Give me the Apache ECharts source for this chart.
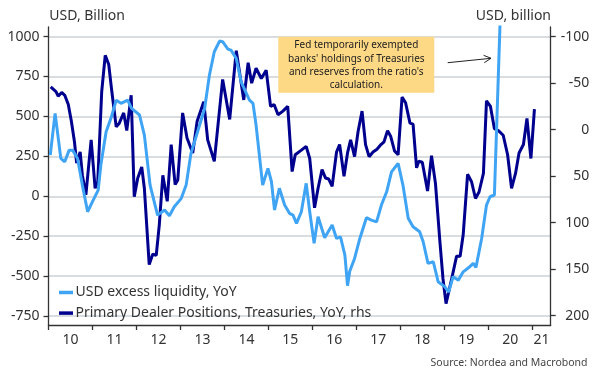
<!DOCTYPE html>
<html><head><meta charset="utf-8">
<script src="https://cdn.jsdelivr.net/npm/echarts@6/dist/echarts.min.js"></script>
<style>html,body{margin:0;padding:0;background:#fff}#c{width:599px;height:380px}</style>
</head><body><div id="c"></div>
<script>
// USD excess liquidity, YoY (USD bn, left axis) — decimal year / value
const lbYears = [2010.04,2010.15,2010.28,2010.37,2010.47,2010.55,2010.66,2010.77,2010.89,2011.00,2011.13,2011.19,2011.31,2011.42,2011.54,2011.65,2011.80,2011.89,2012.07,2012.18,2012.31,2012.48,2012.64,2012.75,2012.86,2013.02,2013.13,2013.24,2013.39,2013.55,2013.66,2013.77,2013.89,2013.96,2014.08,2014.15,2014.27,2014.38,2014.57,2014.65,2014.72,2014.87,2014.99,2015.07,2015.14,2015.25,2015.37,2015.48,2015.56,2015.64,2015.75,2015.86,2015.94,2016.04,2016.13,2016.28,2016.45,2016.55,2016.64,2016.74,2016.80,2016.85,2016.96,2017.08,2017.23,2017.34,2017.46,2017.57,2017.69,2017.80,2017.95,2018.06,2018.18,2018.29,2018.44,2018.52,2018.63,2018.75,2018.86,2019.01,2019.10,2019.20,2019.32,2019.43,2019.58,2019.66,2019.72,2019.85,2019.96,2020.04,2020.14,2020.30];
const lbValues = [258,519,237,216,289,289,237,70,-97,-34,39,195,404,488,602,582,602,550,509,383,70,-118,-86,-122,-66,-13,70,269,404,550,759,905,972,968,922,915,863,717,602,582,446,70,175,91,-86,50,-55,-107,-118,-170,-97,81,-97,-295,-128,-260,-180,-264,-254,-368,-560,-470,-389,-264,-134,-149,-160,-55,28,153,206,70,-138,-191,-222,-285,-420,-410,-535,-566,-600,-504,-525,-473,-441,-420,-445,-264,-55,-3,8,1350];

// Primary Dealer Positions, Treasuries, YoY (USD bn, right axis, inverted)
const pdYears = [2010.05,2010.17,2010.22,2010.30,2010.37,2010.45,2010.52,2010.59,2010.64,2010.72,2010.77,2010.85,2010.89,2010.97,2011.06,2011.12,2011.21,2011.29,2011.37,2011.44,2011.54,2011.61,2011.71,2011.78,2011.88,2011.95,2012.03,2012.12,2012.18,2012.29,2012.37,2012.45,2012.52,2012.60,2012.70,2012.79,2012.88,2012.94,2013.05,2013.15,2013.28,2013.38,2013.53,2013.62,2013.77,2013.96,2014.12,2014.27,2014.44,2014.54,2014.62,2014.72,2014.84,2014.95,2015.05,2015.13,2015.22,2015.33,2015.44,2015.54,2015.61,2015.75,2015.86,2015.94,2016.05,2016.13,2016.22,2016.30,2016.37,2016.45,2016.55,2016.62,2016.72,2016.80,2016.87,2016.96,2017.04,2017.13,2017.21,2017.29,2017.38,2017.47,2017.56,2017.63,2017.71,2017.78,2017.87,2017.95,2018.04,2018.12,2018.22,2018.29,2018.37,2018.42,2018.50,2018.62,2018.71,2018.80,2018.90,2018.97,2019.04,2019.17,2019.28,2019.36,2019.43,2019.53,2019.62,2019.71,2019.79,2019.89,2019.96,2020.05,2020.14,2020.23,2020.34,2020.44,2020.53,2020.62,2020.70,2020.80,2020.88,2020.97,2021.05];
const pdValues = [-46,-41,-36,-40,-37,-27,-9,13,36,24,49,70,68,11,63,56,-41,-80,-70,-41,-3,-7,-18,1,-37,72,52,40,63,145,134,135,102,49,77,16,59,54,-18,9,25,-9,-30,11,34,-54,-11,-85,-32,-72,-50,-66,-55,-64,-25,-27,-16,-20,-25,45,27,22,18,31,84,63,43,52,53,61,24,16,50,25,11,29,2,-20,16,29,24,21,16,13,1,7,23,27,-35,-29,-7,-6,41,34,35,66,28,58,120,160,187,160,136,136,113,48,56,74,67,47,-31,-25,-1,1,6,27,63,47,25,16,-12,31,-22];

const leftTicks = [-750,-500,-250,0,250,500,750,1000];
const rightTicks = [-100,-50,0,50,100,150,200];
const yearTicks = [2010,2011,2012,2013,2014,2015,2016,2017,2018,2019,2020,2021];
const yearLabels = ['10','11','12','13','14','15','16','17','18','19','20','21'];

const LB = 'USD excess liquidity, YoY';
const PD = 'Primary Dealer Positions, Treasuries, YoY, rhs';
const FONT = '"Noto Sans", sans-serif';
const xMin = 2010, xMax = 2021.42;
const labelPos = yearTicks.map(y => (y + Math.min(y + 1, xMax)) / 2);

const chart = echarts.init(document.getElementById('c'), null, {renderer: 'canvas'});
const axisCol = '#333';
chart.setOption({
  animation: false,
  backgroundColor: '#fff',
  grid: {left: 48.5, right: 48.3, top: 27, bottom: 55},
  xAxis: {
    type: 'value', min: xMin, max: xMax,
    axisLine: {onZero: false, lineStyle: {color: axisCol, width: 1.3}},
    axisTick: {show: true, length: 5, customValues: yearTicks, lineStyle: {color: axisCol, width: 1.3}},
    axisLabel: {customValues: labelPos, formatter: v => yearLabels[Math.floor(v) - 2010],
      fontSize: 14, color: axisCol, fontFamily: FONT, margin: 8},
    splitLine: {show: false}
  },
  yAxis: [{
    type: 'value', min: -806, max: 1060, position: 'left',
    axisLine: {show: true, onZero: false, lineStyle: {color: axisCol, width: 1.3}},
    axisTick: {show: true, length: 5, customValues: leftTicks, lineStyle: {color: axisCol, width: 1.3}},
    axisLabel: {customValues: leftTicks, formatter: v => String(v), fontSize: 14, color: axisCol, fontFamily: FONT, margin: 9},
    splitLine: {show: true, lineStyle: {color: '#cdd2d6', width: 1.5}}
  }, {
    type: 'value', min: -110.4, max: 210, inverse: true, position: 'right',
    axisLine: {show: true, onZero: false, lineStyle: {color: axisCol, width: 1.3}},
    axisTick: {show: true, length: 5, customValues: rightTicks, lineStyle: {color: axisCol, width: 1.3}},
    axisLabel: {customValues: rightTicks, formatter: v => String(v), fontSize: 14, color: axisCol, fontFamily: FONT, margin: 38.6, align: 'right'},
    splitLine: {show: false}
  }],
  legend: {
    data: [LB, PD], orient: 'vertical', left: 54, top: 279,
    icon: 'rect', itemWidth: 14, itemHeight: 3.5, itemGap: 3.6,
    textStyle: {fontSize: 14, color: axisCol, fontFamily: FONT, lineHeight: 17, padding: [0, 0, 0, -2.5]}
  },
  series: [{
    name: PD, type: 'line', yAxisIndex: 1, symbol: 'none',
    data: pdYears.map((t, i) => [t, pdValues[i]]),
    lineStyle: {color: '#00008f', width: 3}, itemStyle: {color: '#00008f'}, z: 2
  }, {
    name: LB, type: 'line', yAxisIndex: 0, symbol: 'none',
    data: lbYears.map((t, i) => [t, lbValues[i]]),
    lineStyle: {color: '#3fa4f4', width: 3}, itemStyle: {color: '#3fa4f4'}, z: 3
  }],
  graphic: [
    {type: 'text', x: 49.3, y: 16, style: {text: 'USD, Billion', font: '14px ' + FONT, fill: axisCol, align: 'left', verticalAlign: 'middle'}},
    {type: 'text', x: 551, y: 16, style: {text: 'USD, billion', font: '14px ' + FONT, fill: axisCol, align: 'right', verticalAlign: 'middle'}},
    {type: 'text', x: 587.5, y: 362.7, style: {text: 'Source: Nordea and Macrobond', font: '10.5px ' + FONT, fill: '#444', align: 'right', verticalAlign: 'middle'}},
    {type: 'rect', z: 100, shape: {x: 278.3, y: 36.7, width: 156, height: 56}, style: {fill: '#fdd885'}},
    {type: 'text', z: 101, x: 356.3, y: 65.6, style: {text: "Fed temporarily exempted\nbanks' holdings of Treasuries\nand reserves from the ratio's\ncalculation.", font: '10px ' + FONT, lineHeight: 13.3, fill: '#222', align: 'center', verticalAlign: 'middle'}},
    {type: 'line', z: 101, shape: {x1: 447.7, y1: 62.7, x2: 491, y2: 58.3}, style: {stroke: '#222', lineWidth: 1}},
    {type: 'polyline', z: 101, shape: {points: [[483.6, 55.3], [491, 58.3], [484.3, 62.7]]}, style: {stroke: '#222', lineWidth: 1, fill: null}}
  ]
});
</script>
</body></html>
